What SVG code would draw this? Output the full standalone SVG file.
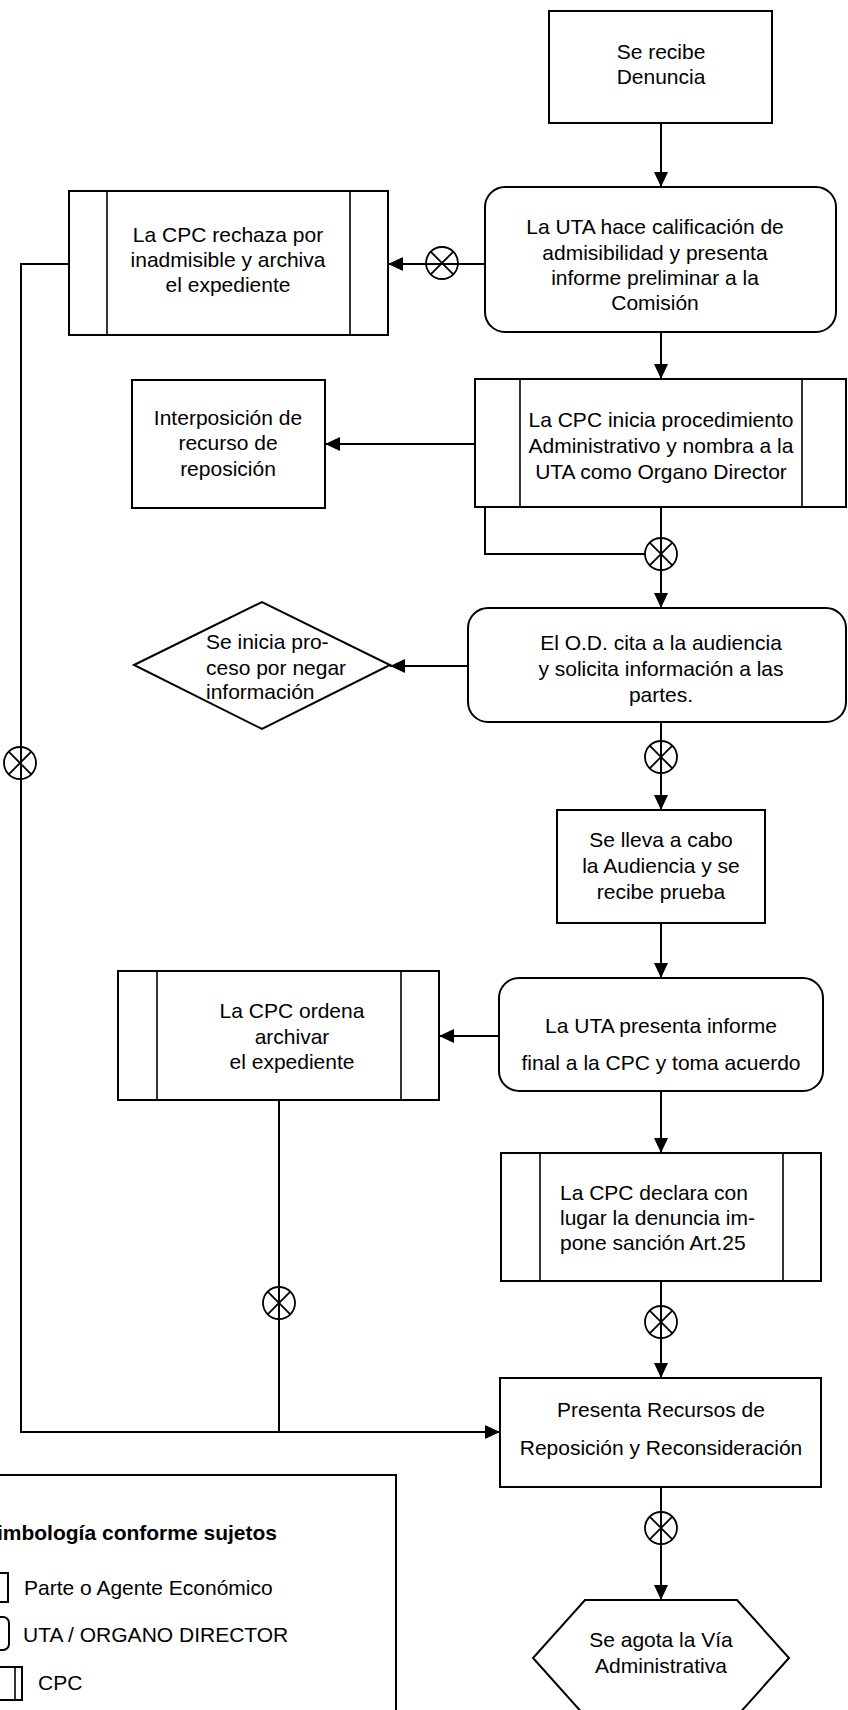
<svg xmlns="http://www.w3.org/2000/svg" width="848" height="1710" viewBox="0 0 848 1710">
<style>
.b{fill:#fff;stroke:#000;stroke-width:2}
.in{stroke:#000;stroke-width:1.6}
.c{fill:none;stroke:#000;stroke-width:2}
.x{fill:none;stroke:#000;stroke-width:1.8}
.t{font-family:"Liberation Sans",Arial,sans-serif;font-size:21px;fill:#000}
.m{text-anchor:middle}
.tb{font-weight:bold}
</style>
<defs>
<marker id="ar" viewBox="0 0 15 14" refX="15" refY="7" markerWidth="15" markerHeight="14" markerUnits="userSpaceOnUse" orient="auto">
<path d="M0,0 L15,7 L0,14 Z" fill="#000"/>
</marker>
<g id="ox"><circle r="16" class="x"/><path d="M-11.3,-11.3 L11.3,11.3 M-11.3,11.3 L11.3,-11.3" class="x"/></g>
</defs>

<g id="connectors">
<path class="c" d="M661,123 V187" marker-end="url(#ar)"/>
<path class="c" d="M485,264 H388" marker-end="url(#ar)"/>
<path class="c" d="M69,264 H21 V1432 H279"/>
<path class="c" d="M279,1432 H500" stroke-width="3" marker-end="url(#ar)"/>
<path class="c" d="M661,332 V379" marker-end="url(#ar)"/>
<path class="c" d="M645,554 H485 V444 H325" marker-end="url(#ar)"/>
<path class="c" d="M661,507 V608" marker-end="url(#ar)"/>
<path class="c" d="M468,666 H390" marker-end="url(#ar)"/>
<path class="c" d="M661,722 V810" marker-end="url(#ar)"/>
<path class="c" d="M661,923 V978" marker-end="url(#ar)"/>
<path class="c" d="M499,1036 H439" marker-end="url(#ar)"/>
<path class="c" d="M661,1091 V1153" marker-end="url(#ar)"/>
<path class="c" d="M279,1100 V1432"/>
<path class="c" d="M661,1281 V1378" marker-end="url(#ar)"/>
<path class="c" d="M661,1487 V1600" marker-end="url(#ar)"/>
<use href="#ox" x="442" y="263"/>
<use href="#ox" x="661" y="554"/>
<use href="#ox" x="20" y="763"/>
<use href="#ox" x="661" y="757"/>
<use href="#ox" x="279" y="1303"/>
<use href="#ox" x="661" y="1322"/>
<use href="#ox" x="661" y="1528"/>
</g>

<g id="n-recibe">
<rect class="b" x="549" y="11" width="223" height="112"/>
<text class="t m" x="661" y="59">Se recibe</text>
<text class="t m" x="661" y="84">Denuncia</text>
</g>

<g id="n-uta-calif">
<rect class="b" x="485" y="187" width="351" height="145" rx="20"/>
<text class="t m" x="655" y="234">La UTA hace calificación de</text>
<text class="t m" x="655" y="260">admisibilidad y presenta</text>
<text class="t m" x="655" y="285">informe preliminar  a la</text>
<text class="t m" x="655" y="310">Comisión</text>
</g>

<g id="n-rechaza">
<rect class="b" x="69" y="191" width="319" height="144"/>
<line class="in" x1="107" y1="191" x2="107" y2="335"/>
<line class="in" x1="350" y1="191" x2="350" y2="335"/>
<text class="t m" x="228" y="242">La CPC rechaza por</text>
<text class="t m" x="228" y="267">inadmisible y archiva</text>
<text class="t m" x="228" y="292">el expediente</text>
</g>

<g id="n-inicia">
<rect class="b" x="475" y="379" width="371" height="128"/>
<line class="in" x1="520" y1="379" x2="520" y2="507"/>
<line class="in" x1="802" y1="379" x2="802" y2="507"/>
<text class="t m" x="661" y="427">La CPC inicia procedimiento</text>
<text class="t m" x="661" y="453">Administrativo y nombra a la</text>
<text class="t m" x="661" y="479">UTA como Organo Director</text>
</g>

<g id="n-interposicion">
<rect class="b" x="132" y="380" width="193" height="128"/>
<text class="t m" x="228" y="425">Interposición de</text>
<text class="t m" x="228" y="450">recurso de</text>
<text class="t m" x="228" y="476">reposición</text>
</g>

<g id="n-od">
<rect class="b" x="468" y="608" width="378" height="114" rx="20"/>
<text class="t m" x="661" y="650">El O.D.  cita a la audiencia</text>
<text class="t m" x="661" y="676">y solicita información a las</text>
<text class="t m" x="661" y="702">partes.</text>
</g>

<g id="n-negar">
<polygon class="b" points="134,665 262,602 390,665 262,729"/>
<text class="t" x="206" y="649">Se inicia pro-</text>
<text class="t" x="206" y="675">ceso por negar</text>
<text class="t" x="206" y="699">información</text>
</g>

<g id="n-audiencia">
<rect class="b" x="557" y="810" width="208" height="113"/>
<text class="t m" x="661" y="847">Se lleva a cabo</text>
<text class="t m" x="661" y="873">la Audiencia y se</text>
<text class="t m" x="661" y="899">recibe prueba</text>
</g>

<g id="n-uta-final">
<rect class="b" x="499" y="978" width="324" height="113" rx="20"/>
<text class="t m" x="661" y="1033">La UTA presenta informe</text>
<text class="t m" x="661" y="1070">final a la CPC y toma acuerdo</text>
</g>

<g id="n-archivar">
<rect class="b" x="118" y="971" width="321" height="129"/>
<line class="in" x1="157" y1="971" x2="157" y2="1100"/>
<line class="in" x1="401" y1="971" x2="401" y2="1100"/>
<text class="t m" x="292" y="1018">La CPC ordena</text>
<text class="t m" x="292" y="1044">archivar</text>
<text class="t m" x="292" y="1069">el expediente</text>
</g>

<g id="n-declara">
<rect class="b" x="501" y="1153" width="320" height="128"/>
<line class="in" x1="540" y1="1153" x2="540" y2="1281"/>
<line class="in" x1="783" y1="1153" x2="783" y2="1281"/>
<text class="t" x="560" y="1200">La CPC declara con</text>
<text class="t" x="560" y="1225">lugar la denuncia im-</text>
<text class="t" x="560" y="1250">pone sanción Art.25</text>
</g>

<g id="n-recursos">
<rect class="b" x="500" y="1378" width="321" height="109"/>
<text class="t m" x="661" y="1417">Presenta Recursos de</text>
<text class="t m" x="661" y="1455">Reposición y Reconsideración</text>
</g>

<g id="n-agota">
<polygon class="b" points="585,1600 737,1600 789,1658 737,1716 585,1716 533,1658"/>
<text class="t m" x="661" y="1647">Se agota la Vía</text>
<text class="t m" x="661" y="1673">Administrativa</text>
</g>

<g id="legend">
<rect class="b" x="-3" y="1475" width="399" height="300"/>
<text class="t tb" x="277" y="1540" text-anchor="end">Simbología conforme sujetos</text>
<rect class="b" x="-30" y="1573" width="38" height="29"/>
<text class="t" x="24" y="1595">Parte o Agente Económico</text>
<rect class="b" x="-30" y="1617" width="39" height="33" rx="6"/>
<text class="t" x="23" y="1642">UTA / ORGANO DIRECTOR</text>
<rect class="b" x="-30" y="1667" width="52" height="33"/>
<line class="in" x1="15" y1="1667" x2="15" y2="1700"/>
<text class="t" x="38" y="1690">CPC</text>
</g>
</svg>
